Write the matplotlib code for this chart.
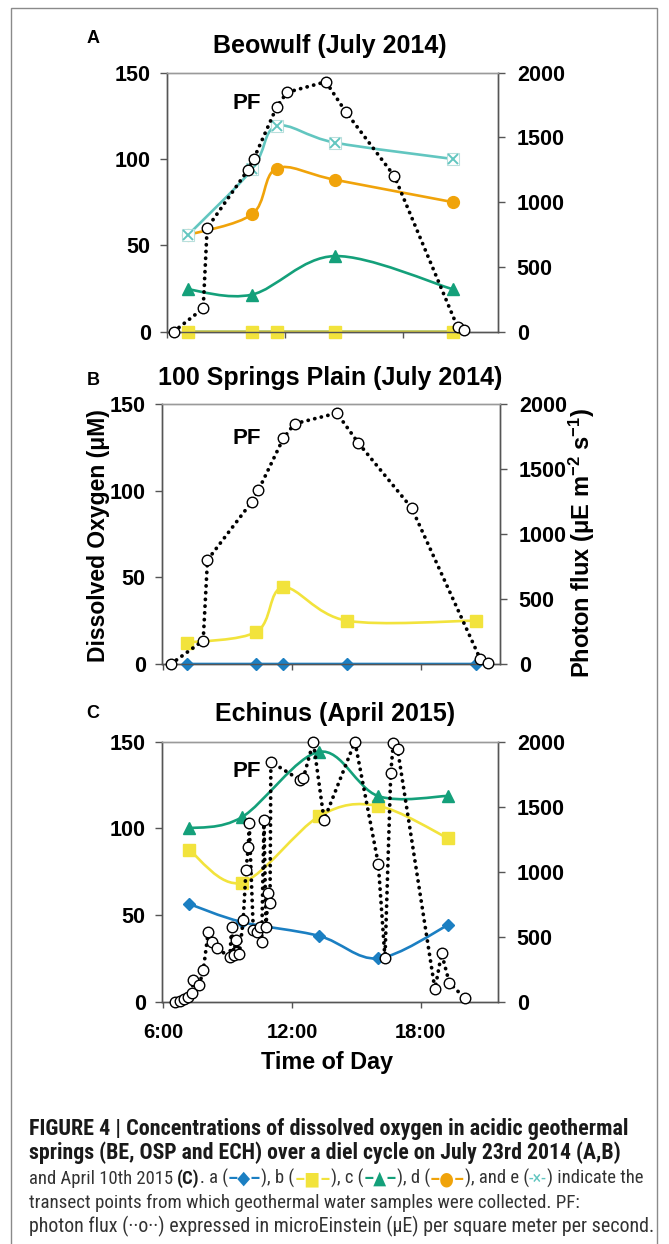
import matplotlib
matplotlib.use('Agg')
import matplotlib.pyplot as plt
from matplotlib.path import Path
from matplotlib.patches import PathPatch, Rectangle
from matplotlib import font_manager
import numpy as np

W, H = 669, 1244

# ---------------- data ----------------
# Beowulf and 100 Springs Plain (July 2014): sample times (hours of day)
ab_hours = [7.08, 10.33, 11.57, 14.53, 20.53]
beo_c_hours = [7.08, 10.33, 14.53, 20.53]

beo_a = [0, 0, 0, 0, 0]
beo_b = [0, 0, 0, 0, 0]
beo_c = [24.5, 21.5, 43.8, 24.5]
beo_d = [56, 68, 94.5, 88, 75]
beo_e = [56, 94, 119, 109.5, 100]

osp_a = [0, 0, 0, 0, 0]
osp_b = [12.3, 18.6, 44.2, 25, 25]

# photon flux July 2014
pf_ab_hours = [6.35, 7.85, 8.05, 10.1, 10.42, 11.58, 12.1, 14.07, 15.07, 17.55, 20.75, 21.1]
pf_ab_values = [0, 180, 800, 1245, 1337, 1736, 1848, 1930, 1700, 1200, 35, 10]

# Echinus (April 2015)
ech_hours = [7.2, 9.65, 13.27, 16.0, 19.27]
ech_a = [56.4, 46, 37.9, 25, 44.2]
ech_b = [87.5, 68.7, 107, 113, 94.3]
ech_c = [100, 106.4, 144.2, 118.7, 118.7]

pf_ech_hours = [6.54, 6.77, 6.96, 7.16, 7.32, 7.39, 7.67, 7.86, 8.09, 8.25, 8.48,
                9.10, 9.18, 9.28, 9.38, 9.54, 9.72, 9.85, 9.96, 10.00,
                10.19, 10.37, 10.50, 10.58, 10.69, 10.78, 10.89, 10.97, 11.01,
                12.37, 12.52, 12.99, 13.49, 14.93,
                16.02, 16.33, 16.60, 16.72, 16.92,
                18.66, 18.97, 19.33, 20.06]
pf_ech_values = [0, 8, 18, 38, 64, 167, 128, 244, 538, 462, 410,
                 346, 577, 360, 475, 367, 628, 1013, 1192, 1372,
                 551, 538, 577, 462, 1398, 577, 834, 757, 1846,
                 1705, 1718, 2000, 1398, 2000,
                 1059, 334, 1762, 1988, 1941,
                 95, 372, 146, 26]

do_ticks = [0, 50, 100, 150]
pf_ticks = [0, 500, 1000, 1500, 2000]
x_ticks = [6, 12, 18]
x_tick_labels = ['6:00', '12:00', '18:00']

titles = ['Beowulf (July 2014)', '100 Springs Plain (July 2014)', 'Echinus (April 2015)']
panel_letters = ['A', 'B', 'C']

# ---------------- style ----------------
C_A = '#1b7fc2'
C_B = '#f2e33c'
C_C = '#14a07a'
C_D = '#f0a30a'
C_E = '#62c6c0'

plt.rcParams['font.family'] = ['Liberation Sans', 'DejaVu Sans']
plt.rcParams['font.weight'] = 'bold'
plt.rcParams['mathtext.fontset'] = 'custom'
plt.rcParams['mathtext.rm'] = 'Liberation Sans:bold'
plt.rcParams['mathtext.it'] = 'Liberation Sans:bold'
plt.rcParams['mathtext.bf'] = 'Liberation Sans:bold'

fig = plt.figure(figsize=(W / 100, H / 100), dpi=100)


def fx(px):
    return px / W


def fy(py):
    return 1 - py / H


def add_axes_px(left, top, right, bottom):
    return fig.add_axes([fx(left), fy(bottom), (right - left) / W, (bottom - top) / H])


def smooth_line(ax, x, y, color, lw=1.9, z=2):
    P = np.column_stack([x, y]).astype(float)
    n = len(P)
    verts = [tuple(P[0])]
    codes = [Path.MOVETO]
    for i in range(n - 1):
        p0 = P[i - 1] if i > 0 else P[i]
        p3 = P[i + 2] if i + 2 < n else P[i + 1]
        c1 = P[i] + (P[i + 1] - p0) / 6.0
        c2 = P[i + 1] - (p3 - P[i]) / 6.0
        verts += [tuple(c1), tuple(c2), tuple(P[i + 1])]
        codes += [Path.CURVE4] * 3
    ax.add_patch(PathPatch(Path(verts, codes), fill=False, edgecolor=color,
                           lw=lw, zorder=z, capstyle='round', joinstyle='round'))


def series(ax, x, y, kind, z):
    if kind == 'a':
        smooth_line(ax, x, y, C_A, z=z)
        ax.plot(x, y, ls='none', marker='D', ms=6.2, mfc=C_A, mec=C_A, zorder=z + 0.1, clip_on=False)
    elif kind == 'b':
        smooth_line(ax, x, y, C_B, z=z)
        ax.plot(x, y, ls='none', marker='s', ms=8.0, mfc=C_B, mec=C_B, zorder=z + 0.1, clip_on=False)
    elif kind == 'c':
        smooth_line(ax, x, y, C_C, z=z)
        ax.plot(x, y, ls='none', marker='^', ms=9.0, mfc=C_C, mec=C_C, zorder=z + 0.1, clip_on=False)
    elif kind == 'd':
        smooth_line(ax, x, y, C_D, z=z)
        ax.plot(x, y, ls='none', marker='o', ms=8.5, mfc=C_D, mec=C_D, zorder=z + 0.1, clip_on=False)
    elif kind == 'e':
        smooth_line(ax, x, y, C_E, z=z)
        ax.plot(x, y, ls='none', marker='s', ms=8.5, mfc='white', mec='#b9dfdc', mew=0.8,
                zorder=z + 0.1, clip_on=False)
        ax.plot(x, y, ls='none', marker='x', ms=7.5, mec=C_E, mew=1.4, zorder=z + 0.2, clip_on=False)


def pf_line(ax2, x, y):
    ax2.plot(x, y, color='black', lw=2.7, ls=(0, (0.05, 1.75)), dash_capstyle='round',
             marker='o', ms=7.6, mfc='white', mec='black', mew=1.0, zorder=5, clip_on=False)


def style_axes(ax, ax2, xlim, show_xlabels):
    ax.set_xlim(*xlim)
    ax.set_ylim(0, 150)
    ax2.set_ylim(0, 2000)
    ax.set_yticks(do_ticks)
    ax2.set_yticks(pf_ticks)
    ax.set_xticks(x_ticks)
    if show_xlabels:
        ax.set_xticklabels(x_tick_labels)
    else:
        ax.set_xticklabels([])
    ax.tick_params(axis='y', direction='out', length=5, width=1, pad=6.5, labelsize=15.5, color='#555555')
    ax2.tick_params(axis='y', direction='out', length=5, width=1, pad=8.5, labelsize=15.5, color='#555555')
    ax.tick_params(axis='x', direction='out', length=4, width=1, pad=11, labelsize=14.5, color='#555555')
    for a in (ax, ax2):
        for s in ('left', 'right', 'bottom'):
            a.spines[s].set_color('#555555')
            a.spines[s].set_linewidth(1.0)
        a.spines['top'].set_color('#9a9a9a')
        a.spines['top'].set_linewidth(1.0)
    ax2.patch.set_visible(False)


# ---------------- panel A ----------------
axA = add_axes_px(166.7, 72.7, 498, 331.7)
axA2 = axA.twinx()
series(axA, ab_hours, beo_a, 'a', 2)
series(axA, ab_hours, beo_b, 'b', 2.5)
series(axA, beo_c_hours, beo_c, 'c', 3)
series(axA, ab_hours, beo_d, 'd', 3.5)
series(axA, ab_hours, beo_e, 'e', 4)
pf_line(axA2, pf_ab_hours, pf_ab_values)
style_axes(axA, axA2, (6, 22.8), False)

# ---------------- panel B ----------------
axB = add_axes_px(161.7, 404, 500, 664)
axB2 = axB.twinx()
series(axB, ab_hours, osp_b, 'b', 2.5)
series(axB, ab_hours, osp_a, 'a', 3)
pf_line(axB2, pf_ab_hours, pf_ab_values)
style_axes(axB, axB2, (5.92, 21.66), False)

# ---------------- panel C ----------------
axC = add_axes_px(161.7, 741.7, 498, 1001.7)
axC2 = axC.twinx()
series(axC, ech_hours, ech_a, 'a', 2)
series(axC, ech_hours, ech_b, 'b', 2.5)
series(axC, ech_hours, ech_c, 'c', 3)
pf_line(axC2, pf_ech_hours, pf_ech_values)
style_axes(axC, axC2, (5.92, 21.6), True)

# ---------------- texts ----------------
title_pos = [(330, 53), (330, 385), (335, 721)]
letter_pos = [(86.7, 43), (86.7, 385), (86.7, 718)]
pf_pos = [(246.7, 103.3), (246.7, 438.3), (246.7, 771.7)]
for t, (x, y) in zip(titles, title_pos):
    fig.text(fx(x), fy(y), t, ha='center', va='baseline', fontsize=18, weight='bold')
for t, (x, y) in zip(panel_letters, letter_pos):
    fig.text(fx(x), fy(y), t, ha='left', va='baseline', fontsize=13, weight='bold')
for (x, y) in pf_pos:
    fig.text(fx(x), fy(y), 'PF', ha='center', va='center', fontsize=16, weight='bold')

fig.text(fx(99), fy(536), 'Dissolved Oxygen (\u03bcM)', rotation=90, ha='center', va='center',
         fontsize=16.5, weight='bold')
fig.text(fx(582), fy(543), 'Photon flux (\u03bcE m$^{-2}$ s$^{-1}$)', rotation=90, ha='center',
         va='center', fontsize=17, weight='bold')
fig.text(fx(327), fy(1063), 'Time of Day', ha='center', va='center', fontsize=16.8, weight='bold')

# figure frame
fig.patches.append(Rectangle((fx(11), fy(1252)), (657 - 11) / W, (1252 - 8) / H,
                             transform=fig.transFigure, fill=False, edgecolor='#8a8a8a', lw=1.0))

# ---------------- caption ----------------
# prefer a condensed sans face if one is installed (caption in the reference is condensed)
cap_family = 'Liberation Sans'
cap_stretch = 'normal'
names = {f.name for f in font_manager.fontManager.ttflist}
if 'Liberation Sans Narrow' in names:
    cap_family = 'Liberation Sans Narrow'
else:
    def is_cond(f):
        s = f.stretch
        if isinstance(s, str):
            return s in ('condensed', 'semi-condensed', 'extra-condensed')
        try:
            return float(s) <= 87.5
        except Exception:
            return False
    for pref in ['Roboto Condensed', 'Open Sans Condensed', 'Noto Sans', 'Roboto', 'Open Sans']:
        hits = [f for f in font_manager.fontManager.ttflist if f.name == pref and is_cond(f)]
        if hits:
            cap_family = pref
            cap_stretch = 'condensed'
            break

renderer = fig.canvas.get_renderer()
TXT = '#333333'
BLD = '#1a1a1a'


def caption_line(y_px, segs, x0, target_w, base=12):
    objs = []
    for s, wt, col in segs:
        fam = [cap_family, 'DejaVu Sans']
        t = fig.text(0, fy(y_px), s, fontsize=base, weight=wt, color=col, family=fam,
                     stretch=cap_stretch, ha='left', va='baseline')
        objs.append(t)
    tot = sum(t.get_window_extent(renderer).width for t in objs)
    fs = base * target_w / tot
    x = x0
    for t in objs:
        t.set_fontsize(fs)
        t.set_position((fx(x), fy(y_px)))
        x += t.get_window_extent(renderer).width


caption_line(1135, [('FIGURE 4 | Concentrations of dissolved oxygen in acidic geothermal', 'bold', BLD)], 29, 602)
caption_line(1159, [('springs (BE, OSP and ECH) over a diel cycle on July 23rd 2014 (A,B)', 'bold', BLD)], 29, 593)
caption_line(1184, [('and April 10th 2015 ', 'normal', TXT), ('(C)', 'bold', BLD), ('. a (', 'normal', TXT),
                    ('\u2013\u25c6\u2013', 'bold', C_A), ('), b (', 'normal', TXT),
                    ('\u2013\u25a0\u2013', 'bold', C_B), ('), c (', 'normal', TXT),
                    ('\u2013\u25b2\u2013', 'bold', C_C), ('), d (', 'normal', TXT),
                    ('\u2013\u25cf\u2013', 'bold', C_D), ('), and e (', 'normal', TXT),
                    ('-\u00d7-', 'normal', C_E), (') indicate the', 'normal', TXT)], 29, 613)
caption_line(1208, [('transect points from which geothermal water samples were collected. PF:', 'normal', TXT)], 29, 551)
caption_line(1232, [('photon flux (\u00b7\u00b7o\u00b7\u00b7) expressed in microEinstein (\u03bcE) per square meter per second.',
                     'normal', TXT)], 29, 624)

fig.savefig('out.png', dpi=100)
